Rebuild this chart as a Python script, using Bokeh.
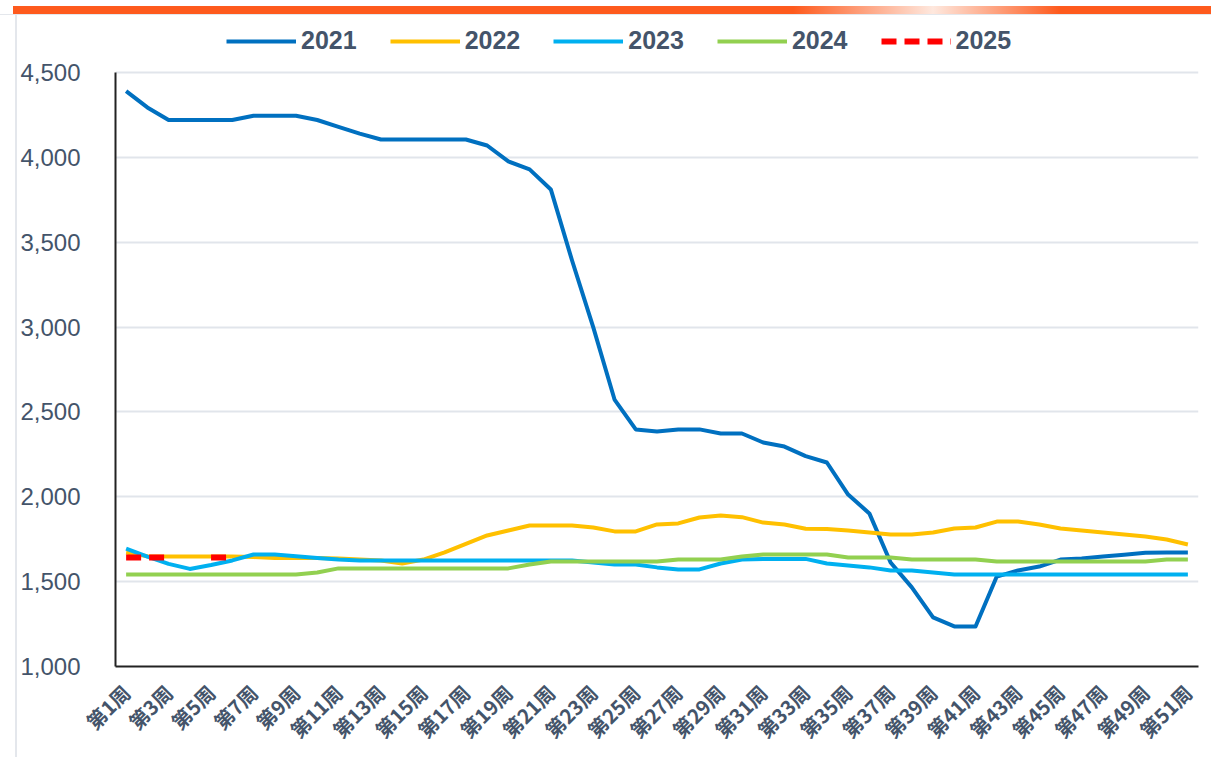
from bokeh.plotting import figure
from bokeh.models import (Range1d, NumeralTickFormatter, FixedTicker,
                          Legend, LegendItem, ColumnDataSource, Div)
from bokeh.layouts import column, row
from bokeh.embed import file_html
from bokeh.resources import INLINE
import math

weeks = [f"第{i}周" for i in range(1, 52)]
week_no = list(range(1, 52))
label_weeks = week_no[::2]

y2021 = [4390, 4294, 4220, 4220, 4220, 4220, 4245, 4245, 4245, 4220,
         4180, 4140, 4105, 4105, 4105, 4105, 4105, 4070, 3976, 3929,
         3811, 3392, 2998, 2573, 2397, 2385, 2397, 2397, 2373, 2373,
         2320, 2296, 2240, 2202, 2013, 1902, 1613, 1466, 1289, 1236,
         1236, 1530, 1566, 1589, 1630, 1636, 1648, 1659, 1670, 1672,
         1672]
y2022 = [1672, 1650, 1648, 1648, 1648, 1648, 1645, 1640, 1640, 1640,
         1636, 1630, 1625, 1607, 1630, 1672, 1722, 1772, 1801, 1831,
         1831, 1831, 1819, 1796, 1796, 1837, 1843, 1878, 1890, 1880,
         1848, 1837, 1812, 1810, 1801, 1790, 1778, 1778, 1790, 1813,
         1819, 1854, 1854, 1837, 1813, 1801, 1790, 1778, 1766, 1748,
         1719]
y2023 = [1695, 1648, 1605, 1575, 1598, 1625, 1660, 1660, 1650, 1640,
         1630, 1625, 1625, 1625, 1625, 1625, 1625, 1625, 1625, 1625,
         1625, 1625, 1613, 1601, 1601, 1584, 1572, 1572, 1607, 1630,
         1634, 1634, 1634, 1607, 1595, 1584, 1566, 1566, 1554, 1542,
         1542, 1542, 1542, 1542, 1542, 1542, 1542, 1542, 1542, 1542,
         1542]
y2024 = [1542, 1542, 1542, 1542, 1542, 1542, 1542, 1542, 1542, 1554,
         1578, 1578, 1578, 1578, 1578, 1578, 1578, 1578, 1578, 1601,
         1619, 1619, 1619, 1619, 1619, 1619, 1630, 1630, 1630, 1648,
         1660, 1660, 1660, 1660, 1642, 1642, 1642, 1630, 1630, 1630,
         1630, 1619, 1619, 1619, 1619, 1619, 1619, 1619, 1619, 1630,
         1630]
y2025 = [1642, 1642, 1642, float("nan"), 1642, 1642]

series_names = ["2021", "2022", "2023", "2024", "2025"]
series_colors = ["#0070C0", "#FFC000", "#00B0F0", "#92D050", "#FF0000"]
y_ticks = [1000, 1500, 2000, 2500, 3000, 3500, 4000, 4500]
y_min, y_max = 1000, 4500

# frame: bottom at 651, 4500 at 57 (figure px); top of frame at 10 leaves room for the legend
W, H = 1194, 742
frame_top, frame_bottom, y_max_px = 10, 651, 57
y_top = y_min + (y_max - y_min) * (frame_bottom - frame_top) / (frame_bottom - y_max_px)

p = figure(width=W, height=H, x_range=Range1d(0.5, 51.5),
           y_range=Range1d(y_min, y_top), output_backend="svg", toolbar_location=None,
           min_border_left=98, min_border_right=13, min_border_top=frame_top,
           min_border_bottom=H - frame_bottom, outline_line_color=None,
           background_fill_color="white", border_fill_color="white")

label_color = "#44546A"
p.yaxis.ticker = FixedTicker(ticks=y_ticks)
p.yaxis.bounds = (y_min, y_max)
p.yaxis.formatter = NumeralTickFormatter(format="0,0")
p.yaxis.major_label_text_font = "Liberation Sans"
p.yaxis.major_label_text_font_size = "24px"
p.yaxis.major_label_text_color = label_color
p.yaxis.major_label_standoff = 29
p.yaxis.major_tick_line_color = None
p.yaxis.minor_tick_line_color = None
p.yaxis.axis_line_color = "#222222"
p.yaxis.axis_line_width = 2

p.xaxis.ticker = FixedTicker(ticks=label_weeks)
p.xaxis.major_label_overrides = {w: weeks[w - 1] for w in label_weeks}
p.xaxis.major_label_orientation = math.pi / 4
p.xaxis.major_label_text_font = "Noto Sans CJK SC"
p.xaxis.major_label_text_font_style = "bold"
p.xaxis.major_label_text_font_size = "20px"
p.xaxis.major_label_text_color = label_color
p.xaxis.major_label_standoff = 16
p.xaxis.major_tick_line_color = None
p.xaxis.minor_tick_line_color = None
p.xaxis.axis_line_color = "#222222"
p.xaxis.axis_line_width = 2

p.xgrid.grid_line_color = None
p.ygrid.grid_line_color = "#E1E5EB"
p.ygrid.grid_line_width = 2

all_y = [y2021, y2022, y2023, y2024, y2025]
renderers = []
for name, col, ys in zip(series_names, series_colors, all_y):
    src = ColumnDataSource(dict(x=week_no[:len(ys)], y=ys))
    if name == "2025":
        r = p.line("x", "y", source=src, line_color=col, line_width=6,
                   line_dash="15 8")
    else:
        r = p.line("x", "y", source=src, line_color=col, line_width=4,
                   line_join="round")
    renderers.append(r)

legend = Legend(items=[LegendItem(label=n, renderers=[r]) for n, r in zip(series_names, renderers)],
                orientation="horizontal", location=(111, 611),
                glyph_width=70, glyph_height=20, label_standoff=5, spacing=33,
                padding=0, margin=0, border_line_color=None, background_fill_alpha=0,
                label_text_font="Liberation Sans", label_text_font_style="bold",
                label_text_font_size="25px", label_text_color=label_color)
p.add_layout(legend, "center")

top_bar = Div(width=1211, height=15, margin=0, styles={
    "background": "linear-gradient(to bottom, #ffffff 0px, #ffffff 6px, rgba(255,255,255,0) 6px, "
                  "rgba(255,255,255,0) 14px, #E4E7EC 14px, #E4E7EC 15px), "
                  "linear-gradient(to right, #ffffff 0px, #ffffff 13px, #FE5A1D 13px, #FE5A1D 793px, "
                  "#FEE8DE 933px, #FE5A1D 1060px, #FE5A1D 100%)"})
left_bar = Div(width=17, height=H, margin=0, styles={
    "background": "linear-gradient(to right, #ffffff 0px, #ffffff 15px, #E4E7EC 15px, #E4E7EC 17px)"})

layout = column(top_bar, row(left_bar, p, spacing=0), spacing=0)

open("out.html", "w").write(file_html(layout, INLINE))
